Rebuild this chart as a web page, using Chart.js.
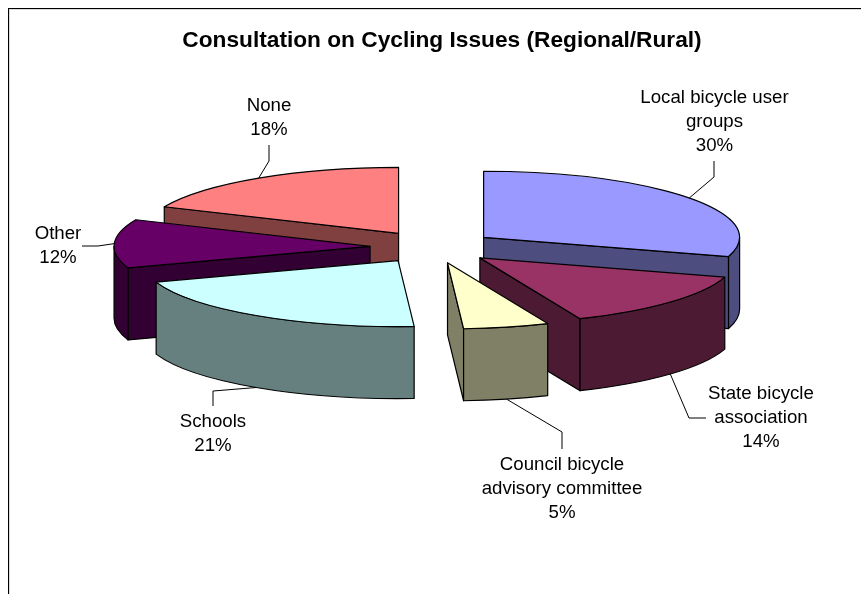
<!DOCTYPE html>
<html>
<head>
<meta charset="utf-8">
<style>html,body{margin:0;padding:0;background:#fff}canvas{display:block}</style>
<script src="https://cdn.jsdelivr.net/npm/chart.js"></script>
</head>
<body>
<canvas id="c" width="861" height="594"></canvas>
<script>
const chartTitle = "Consultation on Cycling Issues (Regional/Rural)";
const categories = ["Local bicycle user groups","State bicycle association","Council bicycle advisory committee","Schools","Other","None"];
const values = [29.7,13.9,5.4,20.7,11.9,18.4];
const labelLines = [["Local bicycle user","groups"],["State bicycle","association"],["Council bicycle","advisory committee"],["Schools"],["Other"],["None"]];
const topColors = ["#9999FF","#993366","#FFFFCC","#CCFFFF","#660066","#FF8080"];
const wallColors = ["#4D4D80","#4D1A33","#808066","#668080","#330033","#804040"];

// layout of the fake 3-D projection and the callouts
const FONT = '"Liberation Sans", Arial, sans-serif';
const PIE = {x:433, y:247, radius:256, squash:0.258, depth:72, explode:63};
const labelCenters = [[714.5,98],[761,394],[562,465],[213,422],[58,234],[269,106]];
const LINE_H = 24;
const elbows = [[[714,177],[714,161]],[[689,418],[706,418]],[[562,432],[562,449]],[[213,391],[213,406]],[[98,246],[82,246]],[[269,161],[269,145]]];

function geom(el){
  const mid=(el.startAngle+el.endAngle)/2;
  return {
    ax:PIE.x+Math.cos(mid)*PIE.explode,
    ay:PIE.y+Math.sin(mid)*PIE.explode*PIE.squash,
    rx:el.outerRadius, ry:el.outerRadius*PIE.squash, mid
  };
}
function drawWalls(ctx,el,color){
  const g=geom(el), s=el.startAngle, e=el.endAngle, d=PIE.depth;
  ctx.fillStyle=color; ctx.strokeStyle="#000"; ctx.lineWidth=1.2; ctx.lineJoin="round";
  const face=a=>{
    const x=g.ax+Math.cos(a)*g.rx, y=g.ay+Math.sin(a)*g.ry;
    ctx.beginPath(); ctx.moveTo(g.ax,g.ay); ctx.lineTo(x,y); ctx.lineTo(x,y+d); ctx.lineTo(g.ax,g.ay+d); ctx.closePath();
    ctx.fill(); ctx.stroke();
  };
  // a cut face is visible when the slice lies above its top edge
  if(Math.cos(s)<0) face(s);
  if(Math.cos(e)>0) face(e);
  // outer rim: only the part on the near half of the ellipse
  const tau=Math.PI*2;
  let a0=s%tau; if(a0<0) a0+=tau;
  const a1=a0+(e-s);
  [0,tau].forEach(base=>{
    const from=Math.max(a0,base), to=Math.min(a1,base+Math.PI);
    if(to>from){
      ctx.beginPath();
      ctx.ellipse(g.ax,g.ay,g.rx,g.ry,0,from,to);
      ctx.lineTo(g.ax+Math.cos(to)*g.rx,g.ay+Math.sin(to)*g.ry+d);
      ctx.ellipse(g.ax,g.ay+d,g.rx,g.ry,0,to,from,true);
      ctx.closePath(); ctx.fill(); ctx.stroke();
    }
  });
}
function outlineTop(ctx,el){
  const g=geom(el);
  ctx.strokeStyle="#000"; ctx.lineWidth=1.2; ctx.lineJoin="round";
  ctx.beginPath(); ctx.moveTo(g.ax,g.ay);
  ctx.ellipse(g.ax,g.ay,g.rx,g.ry,0,el.startAngle,el.endAngle);
  ctx.closePath(); ctx.stroke();
}

const pie3d = {
  id:"pie3d",
  beforeDraw(chart){
    const ctx=chart.ctx;
    ctx.save();
    ctx.fillStyle="#dcdcdc"; ctx.fillRect(9,9,852,1); ctx.fillRect(9,9,1,585);
    ctx.fillStyle="#000"; ctx.fillRect(8,8,853,1); ctx.fillRect(8,8,1,586);
    ctx.restore();
  },
  beforeDatasetsDraw(chart){
    const ctx=chart.ctx, arcs=chart.getDatasetMeta(0).data;
    const order=arcs.map((el,i)=>i).sort((a,b)=>Math.sin(geom(arcs[a]).mid)-Math.sin(geom(arcs[b]).mid));
    ctx.save();
    order.forEach(i=>drawWalls(ctx,arcs[i],wallColors[i]));
    ctx.restore();
    // the library draws each top face, inside the projection of its slice
    arcs.forEach(el=>{
      if(el.__wrapped) return;
      el.__wrapped=true;
      const proto=Object.getPrototypeOf(el).draw;
      el.draw=function(c,area){
        const g=geom(this);
        c.save();
        c.translate(g.ax,g.ay); c.scale(1,PIE.squash); c.translate(-this.x,-this.y);
        proto.call(this,c,area);
        c.restore();
        outlineTop(c,this);
      };
    });
  },
  afterDatasetsDraw(chart){
    const ctx=chart.ctx, arcs=chart.getDatasetMeta(0).data;
    ctx.save();
    arcs.forEach((el,i)=>{
      const g=geom(el);
      const px=g.ax+Math.cos(g.mid)*g.rx;
      let py=g.ay+Math.sin(g.mid)*g.ry;
      if(Math.sin(g.mid)>0) py+=PIE.depth;
      ctx.strokeStyle="#000"; ctx.lineWidth=1;
      ctx.beginPath(); ctx.moveTo(px,py);
      elbows[i].forEach(p=>ctx.lineTo(p[0],p[1]));
      ctx.stroke();
      const lines=labelLines[i].concat([Math.round(values[i])+"%"]);
      ctx.fillStyle="#000"; ctx.font='18.67px '+FONT; ctx.textAlign="center"; ctx.textBaseline="middle";
      lines.forEach((t,k)=>ctx.fillText(t,labelCenters[i][0],labelCenters[i][1]+k*LINE_H));
    });
    ctx.restore();
  }
};

new Chart(document.getElementById("c"),{
  type:"pie",
  data:{labels:categories,datasets:[{
    data:values, backgroundColor:topColors, borderWidth:0, offset:0, radius:PIE.radius
  }]},
  options:{
    responsive:false, animation:false, events:[],
    layout:{padding:{left:23,right:0,top:0,bottom:0}},
    plugins:{
      legend:{display:false}, tooltip:{enabled:false},
      title:{display:true,text:chartTitle,color:"#000",font:{family:FONT,size:22.7,weight:"bold",lineHeight:1.2},padding:{top:27,bottom:10}}
    }
  },
  plugins:[pie3d]
});
</script>
</body>
</html>
